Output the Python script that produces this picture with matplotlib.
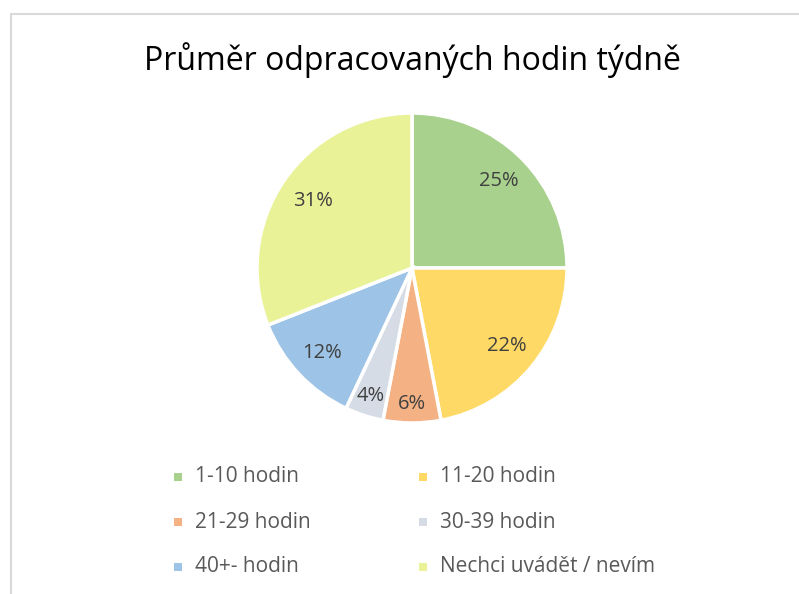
import matplotlib
matplotlib.use("Agg")
import matplotlib.pyplot as plt
import numpy as np
from matplotlib.patches import Rectangle

title = "Průměr odpracovaných hodin týdně"
categories = ["1-10 hodin", "11-20 hodin", "21-29 hodin", "30-39 hodin", "40+- hodin", "Nechci uvádět / nevím"]
values = [25, 22, 6, 4, 12, 31]
colors = ["#A9D18E", "#FFD966", "#F4B183", "#D6DCE5", "#9DC3E6", "#E9F297"]
label_dist = [0.79, 0.79, 0.88, 0.87, 0.80, 0.77]

plt.rcParams['font.family'] = ['Open Sans', 'DejaVu Sans']

W, H = 799, 594
fig = plt.figure(figsize=(W/100, H/100), dpi=100)

# frame
fig.patches.append(Rectangle((11/W, -0.1), 1.2, (H-14)/H + 0.1, transform=fig.transFigure,
                             fill=False, edgecolor="#D9D9D9", linewidth=1.5))

cx, cy, R = 412, 268, 155
ax = fig.add_axes([(cx-R)/W, (H-cy-R)/H, 2*R/W, 2*R/H])
wedges, _ = ax.pie(values, colors=colors, startangle=90, counterclock=False,
                   wedgeprops=dict(edgecolor="white", linewidth=2.5), radius=1)
ax.set_xlim(-1, 1); ax.set_ylim(-1, 1)
ax.set_aspect('equal')
for w, v, d in zip(wedges, values, label_dist):
    ang = np.deg2rad((w.theta1 + w.theta2) / 2)
    ax.text(d*np.cos(ang), d*np.sin(ang), f"{v}%", ha="center", va="center",
            fontsize=14.5, color="#404040")

fig.text(412/W, 1-60/H, title, ha="center", va="center", fontsize=23, color="#000000")

# legend
xs = [178, 423]
ys = [477, 522, 567]
for i, (lab, col) in enumerate(zip(categories, colors)):
    x = xs[i % 2]; y = ys[i // 2]
    fig.patches.append(Rectangle(((x-4)/W, 1-(y+4)/H), 8/W, 8/H, transform=fig.transFigure,
                                 facecolor=col, edgecolor="none"))
    fig.text((x+17)/W, 1-y/H, lab, ha="left", va="center", fontsize=15, color="#595959")

fig.savefig("out.png", dpi=100)
